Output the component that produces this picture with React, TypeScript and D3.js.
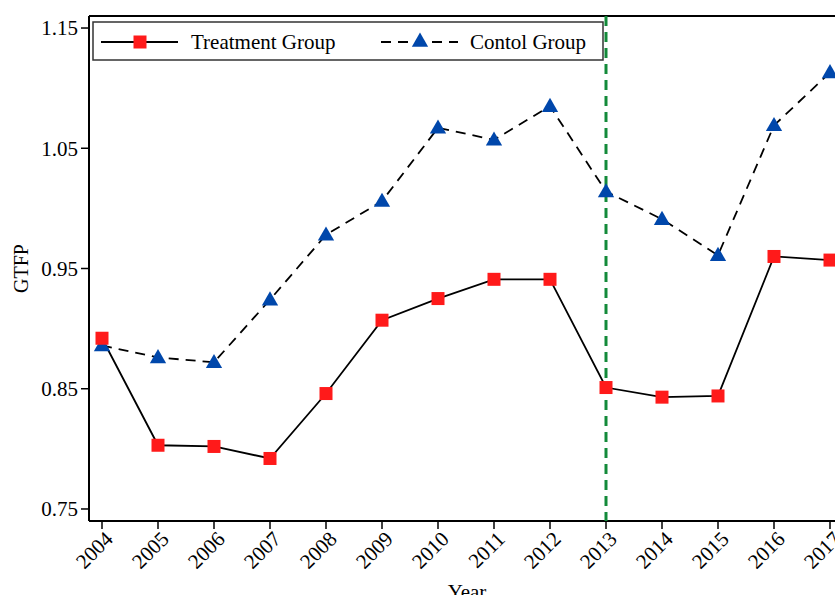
import React from "react";
import * as d3 from "d3";

const years = [2004, 2005, 2006, 2007, 2008, 2009, 2010, 2011, 2012, 2013, 2014, 2015, 2016, 2017];
const treatment = [0.892, 0.803, 0.802, 0.792, 0.846, 0.907, 0.925, 0.941, 0.941, 0.851, 0.843, 0.844, 0.960, 0.957];
const control = [0.886, 0.876, 0.872, 0.924, 0.978, 1.006, 1.067, 1.057, 1.085, 1.014, 0.991, 0.961, 1.069, 1.113];
const yTicks = [0.75, 0.85, 0.95, 1.05, 1.15];
const policyYear = 2013;

const font = "'Liberation Serif', 'Times New Roman', serif";

export default function App() {
    const width = 835;
    const height = 595;
    const left = 89;
    const top = 16;
    const bottom = 521;

    const x = d3.scaleLinear().domain([2004, 2017]).range([102, 830]);
    const y = d3.scaleLinear().domain([0.74, 1.16]).range([bottom, top]);

    const line = d3.line<number>()
        .x((d, i) => x(years[i]))
        .y((d) => y(d));

    const tri = d3.symbol().type(d3.symbolTriangle).size(115)();

    return (
        <svg width={width} height={height} style={{position: "absolute", left: 0, top: 0, background: "#fff"}}>
            {/* axes frame */}
            <line x1={left} x2={width} y1={top} y2={top} stroke="#000" strokeWidth={2} />
            <line x1={left} x2={left} y1={top} y2={bottom} stroke="#000" strokeWidth={2} />
            <line x1={left} x2={width} y1={bottom} y2={bottom} stroke="#000" strokeWidth={2} />

            {yTicks.map((t) => (
                <g key={t}>
                    <line x1={left - 8} x2={left} y1={y(t)} y2={y(t)} stroke="#000" strokeWidth={1.5} />
                    <text x={left - 11} y={y(t)} dy="0.35em" textAnchor="end" fontFamily={font} fontSize={21}>
                        {t.toFixed(2)}
                    </text>
                </g>
            ))}

            {years.map((yr) => (
                <g key={yr}>
                    <line x1={x(yr)} x2={x(yr)} y1={bottom} y2={bottom + 8} stroke="#000" strokeWidth={1.5} />
                    <text transform={`translate(${x(yr) + 7},${bottom + 14}) rotate(-45)`} textAnchor="end"
                        dy="0.35em" fontFamily={font} fontSize={21}>
                        {yr}
                    </text>
                </g>
            ))}

            <text transform={`translate(28,${(top + bottom) / 2}) rotate(-90)`} textAnchor="middle"
                fontFamily={font} fontSize={20}>GTFP</text>
            <text x={467} y={599} textAnchor="middle" fontFamily={font} fontSize={21}>Year</text>

            {/* series */}
            <path d={line(control) || ""} fill="none" stroke="#000" strokeWidth={1.8} strokeDasharray="10,7" />
            <path d={line(treatment) || ""} fill="none" stroke="#000" strokeWidth={1.8} />

            {/* policy line */}
            <line x1={x(policyYear)} x2={x(policyYear)} y1={top} y2={bottom} stroke="#138a3a"
                strokeWidth={3} strokeDasharray="10,6" />

            {control.map((v, i) => (
                <path key={"c" + i} d={tri || ""} transform={`translate(${x(years[i])},${y(v) + 1})`} fill="#0047ab" />
            ))}
            {treatment.map((v, i) => (
                <rect key={"t" + i} x={x(years[i]) - 6.5} y={y(v) - 6.5} width={13} height={13} fill="#ff1a1a" />
            ))}

            {/* legend */}
            <g>
                <rect x={93} y={22} width={510} height={38} fill="#fff" stroke="#333" strokeWidth={1.5} />
                <line x1={101} x2={178} y1={42} y2={42} stroke="#000" strokeWidth={1.8} />
                <rect x={133.5} y={35.5} width={13} height={13} fill="#ff1a1a" />
                <text x={191} y={42} dy="0.35em" fontFamily={font} fontSize={21}>Treatment Group</text>
                <line x1={381} x2={458} y1={42} y2={42} stroke="#000" strokeWidth={1.8} strokeDasharray="10,7" />
                <path d={tri || ""} transform={`translate(420,42)`} fill="#0047ab" />
                <text x={470} y={42} dy="0.35em" fontFamily={font} fontSize={21}>Contol Group</text>
            </g>
        </svg>
    );
}
